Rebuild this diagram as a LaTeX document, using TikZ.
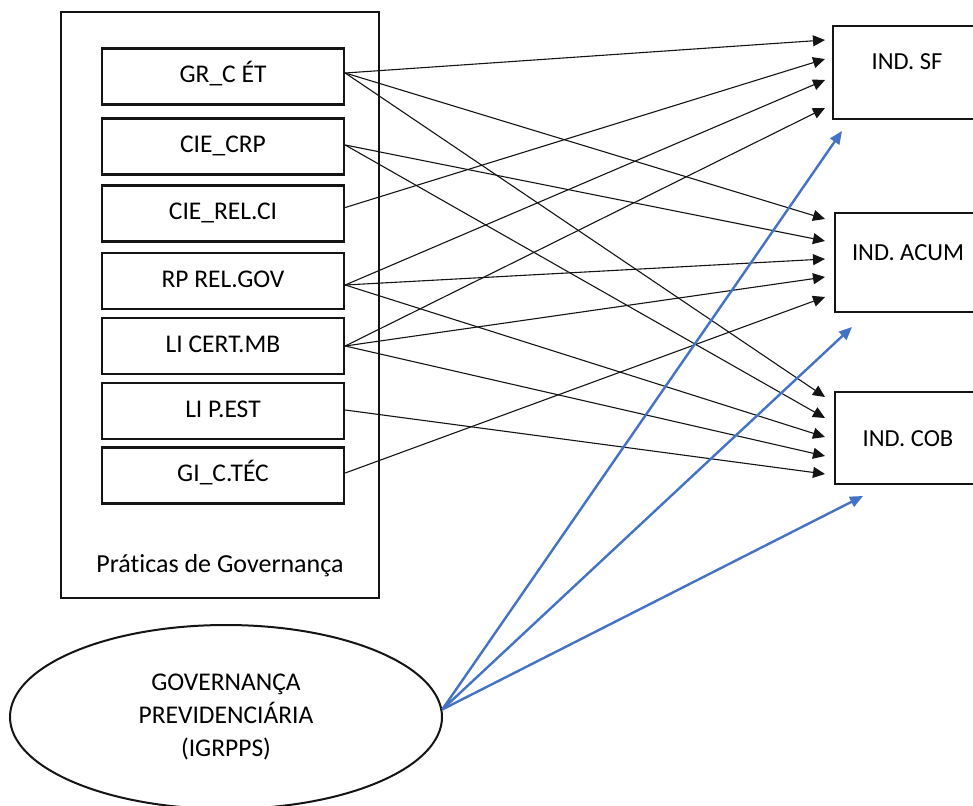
\documentclass[tikz,border=0pt]{standalone}
\usepackage{fontspec}
\setmainfont{Carlito}[Ligatures=NoCommon]
\usetikzlibrary{arrows.meta,shapes.geometric}

\definecolor{linkblue}{RGB}{68,114,196}
\definecolor{ink}{RGB}{20,20,20}

\tikzset{
  pbox/.style={draw=ink, line width=2.4pt, minimum width=242pt, minimum height=56pt,
    inner sep=0pt, text height=16pt, text depth=4pt, font=\fontsize{25.5}{30}\selectfont},
  ibox/.style={draw=ink, line width=2.4pt, anchor=north west, minimum width=160pt,
    inner sep=0pt},
  ilabel/.style={inner sep=0pt, text height=16pt, text depth=0pt,
    font=\fontsize{24.5}{30}\selectfont},
  link/.style={draw=ink, line width=1.1pt, -{Triangle[length=12pt,width=11pt]}},
  gov/.style={draw=linkblue, line width=2.4pt, -{Triangle[length=13pt,width=11pt]}},
}

\begin{document}
\begin{tikzpicture}[x=1pt,y=-1pt]
\useasboundingbox (0,0) rectangle (973,805);
\begin{scope}
\clip (0,0) rectangle (973,805);

% practices group
\node[draw=ink, line width=2.4pt, minimum width=318pt, minimum height=586pt,
      inner sep=0pt] (grp) at (220,305) {};
\node[anchor=base, inner sep=0pt, font=\fontsize{26}{30}\selectfont]
      (grplabel) at (220,572) {Práticas de Governança};

\node[pbox] (gr)  at (223,76.5)  {GR\_C ÉT};
\node[pbox] (crp) at (223,146.5) {CIE\_CRP};
\node[pbox] (rci) at (223,213.5) {CIE\_REL.CI};
\node[pbox] (rp)  at (223,281)   {RP REL.GOV};
\node[pbox] (lic) at (223,346)   {LI CERT.MB};
\node[pbox] (lip) at (223,411)   {LI P.EST};
\node[pbox] (gi)  at (223,475.5) {GI\_C.TÉC};

% indicators
\node[ibox, minimum height=93pt] (sf)   at (832,25)  {};
\node[ibox, minimum height=99pt] (acum) at (834,212) {};
\node[ibox, minimum height=92pt] (cob)  at (834,391) {};
\node[ilabel] (sft)   at (907,62)  {IND. SF};
\node[ilabel] (acumt) at (908,252) {IND. ACUM};
\node[ilabel] (cobt)  at (908,438) {IND. COB};

% governance index
\node[draw=ink, line width=2pt, ellipse, minimum width=432pt, minimum height=184pt,
      inner sep=0pt, align=center, font=\fontsize{25.5}{33}\selectfont]
      (igr) at (226,717) {GOVERNANÇA\\PREVIDENCIÁRIA\\(IGRPPS)};

% arrow ends in front of the indicators
\coordinate (sf1) at (825,40);
\coordinate (sf2) at (825,59);
\coordinate (sf3) at (825,80);
\coordinate (sf4) at (825,108);
\coordinate (ac1) at (825,219);
\coordinate (ac2) at (825,241);
\coordinate (ac3) at (825,259);
\coordinate (ac4) at (825,277);
\coordinate (ac5) at (825,297);
\coordinate (cb1) at (825,397);
\coordinate (cb2) at (825,418);
\coordinate (cb3) at (825,437);
\coordinate (cb4) at (825,456);
\coordinate (cb5) at (825,474);
\coordinate (gsf) at (842,131);
\coordinate (gac) at (852,327);
\coordinate (gcb) at (863,496);

% practice -> indicator links
\draw[link] ([yshift=3.5pt]gr.east)  -- (sf1);
\draw[link] ([yshift=3.5pt]gr.east)  -- (ac1);
\draw[link] ([yshift=3.5pt]gr.east)  -- (cb1);
\draw[link] ([yshift=1.5pt]crp.east) -- (ac2);
\draw[link] ([yshift=1.5pt]crp.east) -- (cb2);
\draw[link] ([yshift=6pt]rci.east)   -- (sf2);
\draw[link] ([yshift=-4pt]rp.east)   -- (sf3);
\draw[link] ([yshift=-4pt]rp.east)   -- (ac3);
\draw[link] ([yshift=-4pt]rp.east)   -- (cb3);
\draw[link] (lic.east) -- (sf4);
\draw[link] (lic.east) -- (ac4);
\draw[link] (lic.east) -- (cb4);
\draw[link] ([yshift=1pt]lip.east)   -- (cb5);
\draw[link] ([yshift=2.5pt]gi.east)  -- (ac5);

% governance -> indicators
\draw[gov] (igr.2) -- (gsf);
\draw[gov] (igr.2) -- (gac);
\draw[gov] (igr.2) -- (gcb);

\end{scope}
\end{tikzpicture}
\end{document}
